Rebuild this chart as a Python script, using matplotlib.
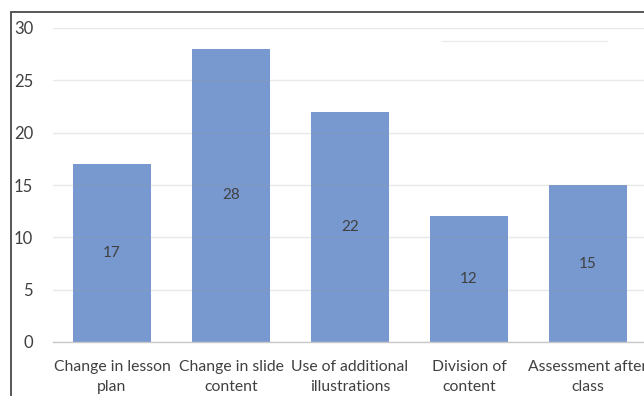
import matplotlib

matplotlib.use("Agg")
import matplotlib.pyplot as plt
from matplotlib.patches import Rectangle
from matplotlib.lines import Line2D
import numpy as np

categories = [
    "Change in lesson\nplan",
    "Change in slide\ncontent",
    "Use of additional\nillustrations",
    "Division of\ncontent",
    "Assessment after\nclass",
]
counts = [17, 28, 22, 12, 15]
y_ticks = [0, 5, 10, 15, 20, 25, 30]

plt.rcParams["font.family"] = ["Lato", "DejaVu Sans"]

W, H = 644, 396
fig = plt.figure(figsize=(W / 100, H / 100), dpi=100)

# plot area: one category slot is ~119 px, last slot runs past the right edge
slot = 119.0
left_px, bottom_px, top_px = 52.5, 342.0, 28.0
ax = fig.add_axes([left_px / W, 1 - bottom_px / H, 5 * slot / W, (bottom_px - top_px) / H])

x = np.arange(len(categories))
bars = ax.bar(x, counts, width=0.66, color="#7899cf", zorder=2)
ax.bar_label(bars, labels=[str(v) for v in counts], label_type="center",
             fontsize=11, color="#404040")

ax.set_xlim(-0.5, len(categories) - 0.5)
ax.set_ylim(0, 30)
ax.set_yticks(y_ticks)
ax.set_xticks(x)
ax.set_xticklabels(categories, fontsize=11.3, color="#404040", linespacing=1.55)
ax.tick_params(axis="y", labelsize=12, labelcolor="#404040", length=0, pad=14)
ax.tick_params(axis="x", length=0, pad=13)

ax.grid(axis="y", color="#9a9a9a", alpha=0.22, linewidth=1.0, zorder=3)
ax.set_axisbelow(False)
for side in ["top", "right", "left"]:
    ax.spines[side].set_visible(False)
ax.spines["bottom"].set_color("#c8c8c8")
ax.spines["bottom"].set_linewidth(1.0)
ax.spines["bottom"].set_zorder(4)

# outer chart frame
fig.patches.append(Rectangle((11 / W, -0.1), 1.2, 1 - 12 / H + 0.1,
                             transform=fig.transFigure, fill=False,
                             edgecolor="#4a4a4a", linewidth=1.3))
# faint leftover line near the top
fig.lines.append(Line2D([442 / W, 607 / W], [1 - 41 / H, 1 - 41 / H],
                        transform=fig.transFigure, color="#ececec", linewidth=1.0))

fig.savefig("out.png", dpi=100)
